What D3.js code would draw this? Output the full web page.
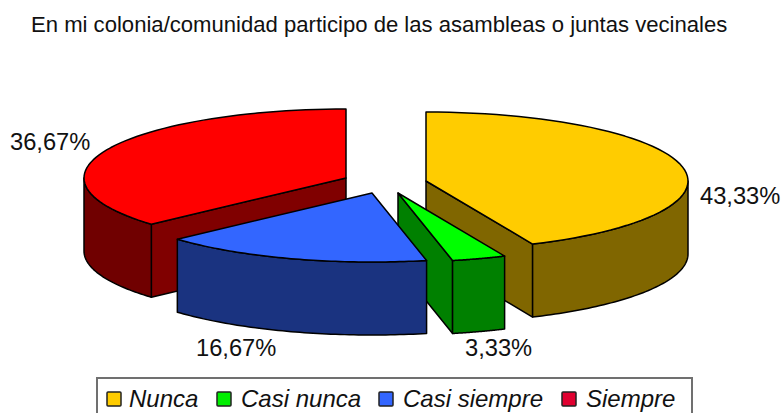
<!DOCTYPE html>
<html><head><meta charset="utf-8">
<script src="https://cdnjs.cloudflare.com/ajax/libs/d3/7.8.5/d3.min.js"></script>
<style>html,body{margin:0;padding:0;background:#fff}svg{display:block}text{font-family:"Liberation Sans",Arial,sans-serif;fill:#111}</style>
</head><body><svg id="c" width="784" height="413"></svg>
<script>
const titleText = "En mi colonia/comunidad participo de las asambleas o juntas vecinales";
const categories = ["Nunca","Casi nunca","Casi siempre","Siempre"];
const values = [43.33,3.33,16.67,36.67];
const valueLabels = ["43,33%","3,33%","16,67%","36,67%"];
const topColors = ["#FFCC00","#00FF00","#3366FF","#FF0000"];
const sideColors = ["#806600","#008000","#1A3380","#800000"];
const rimColors = ["#806600","#008000","#1A3380","#700000"];
const legendColors = ["#FFCC00","#00EE00","#3366FF","#E00030"];
const sliceCenters = [[426,181],[398,193],[372,193],[346,178]];
const labelPos = [[700,204],[465,356],[196,356],[10,150]];
const legendX = [107,217,379,562];
const legendTextX = [129,241,403,586];

const svg = d3.select("#c");
const RX=262, RY=69, DEPTH=73;
const sx=d3.scaleLinear().domain([-1,1]).range([-RX,RX]);
const sy=d3.scaleLinear().domain([-1,1]).range([-RY,RY]);
const arcs=d3.pie().sort(null).value(d=>d)(values);
const line=d3.line();
const pt=(c,a,dz=0)=>[c[0]+sx(Math.sin(a)),c[1]-sy(Math.cos(a))+dz];
const arcPts=(c,a0,a1,dz=0)=>d3.range(0,61).map(i=>pt(c,a0+(a1-a0)*i/60,dz));
const draw=(pts,fill)=>svg.append("path").attr("d",line(pts)+"Z").attr("fill",fill)
  .attr("stroke","#000").attr("stroke-width",1.5).attr("stroke-linejoin","round");

svg.append("text").attr("x",31).attr("y",32).attr("font-size",22.1).text(titleText);

[3,0,1,2].forEach(i=>{
  const d=arcs[i], c=sliceCenters[i], a0=d.startAngle, a1=d.endAngle;
  if(i===3){ const p=pt(c,a0);
    draw([c,p,[p[0],p[1]+DEPTH],[c[0],c[1]+DEPTH]],sideColors[i]); }
  if(i===0||i===1){ const p=pt(c,a1);
    draw([c,p,[p[0],p[1]+DEPTH],[c[0],c[1]+DEPTH]],sideColors[i]); }
  const r0=Math.max(a0,Math.PI/2), r1=Math.min(a1,Math.PI*1.5);
  if(r1>r0) draw(arcPts(c,r0,r1).concat(arcPts(c,r1,r0,DEPTH)),rimColors[i]);
  draw([c].concat(arcPts(c,a0,a1)),topColors[i]);
});

labelPos.forEach((p,i)=>svg.append("text").attr("x",p[0]).attr("y",p[1]).attr("font-size",23.7).text(valueLabels[i]));

svg.append("rect").attr("x",97).attr("y",378).attr("width",595).attr("height",40).attr("fill","#fff").attr("stroke","#707070").attr("stroke-width",2);
categories.forEach((t,i)=>{
  svg.append("rect").attr("x",legendX[i]).attr("y",392).attr("width",14).attr("height",14).attr("fill",legendColors[i]).attr("stroke","#222").attr("stroke-width",1.5).attr("rx",1);
  svg.append("text").attr("x",legendTextX[i]).attr("y",406.5).attr("font-size",24).attr("font-style","italic").text(t);
});
</script></body></html>
